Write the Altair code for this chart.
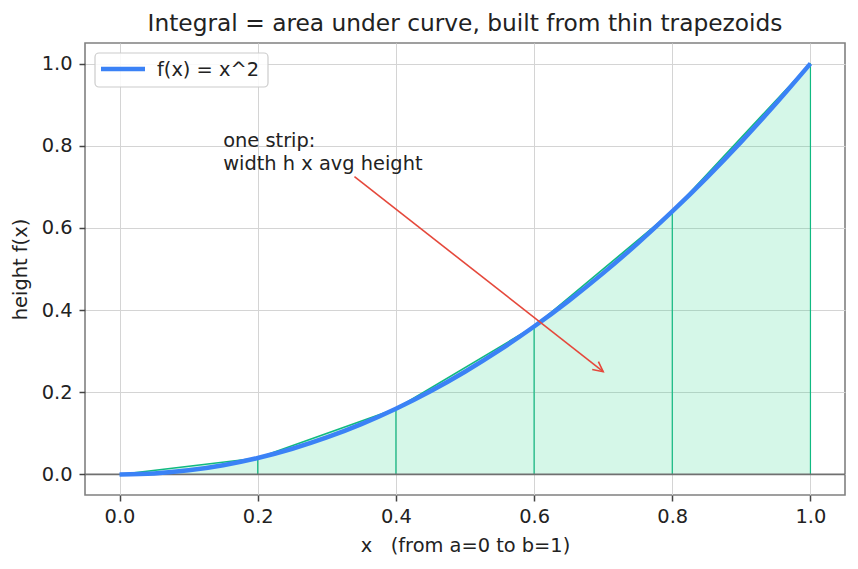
import math
import altair as alt
import pandas as pd

# ---- data ----
curve_x = [0.0, 0.05, 0.1, 0.15, 0.2, 0.25, 0.3, 0.35, 0.4, 0.45, 0.5,
           0.55, 0.6, 0.65, 0.7, 0.75, 0.8, 0.85, 0.9, 0.95, 1.0]
curve_y = [0.0, 0.0025, 0.01, 0.0225, 0.04, 0.0625, 0.09, 0.1225, 0.16, 0.2025, 0.25,
           0.3025, 0.36, 0.4225, 0.49, 0.5625, 0.64, 0.7225, 0.81, 0.9025, 1.0]
node_x = [0.0, 0.2, 0.4, 0.6, 0.8, 1.0]
node_y = [0.0, 0.04, 0.16, 0.36, 0.64, 1.0]
arrow_x = [0.34, 0.70]
arrow_y = [0.725, 0.25]
note_x = [0.15]
note_y = [0.75]
note_text = ["one strip:\nwidth h x avg height"]
tick_vals = [0.0, 0.2, 0.4, 0.6, 0.8, 1.0]
legend_label = "f(x) = x^2"

W, H = 760, 452
XDOM = [-0.05, 1.05]
YDOM = [-0.05, 1.05]
FONT = "DejaVu Sans"
FS = 19.4
BLUE = "#3b82f6"
GREEN = "#10b981"
RED = "#e5483b"
NB = "\u00a0"

curve_df = pd.DataFrame({"x": curve_x, "y": curve_y})
node_df = pd.DataFrame({"x": node_x, "y": node_y, "y0": [0.0] * len(node_x)})
arrow_df = pd.DataFrame({"x": arrow_x, "y": arrow_y})
# arrow head orientation from the line direction in pixel space
dx_px = (arrow_x[1] - arrow_x[0]) * W / (XDOM[1] - XDOM[0])
dy_px = (arrow_y[0] - arrow_y[1]) * H / (YDOM[1] - YDOM[0])
head_angle = math.degrees(math.atan2(dx_px, -dy_px)) % 360
head_df = pd.DataFrame({"x": [arrow_x[1]], "y": [arrow_y[1]], "a": [head_angle]})
note_df = pd.DataFrame({"x": note_x, "y": note_y, "t": note_text})
legend_df = pd.DataFrame({"t": [legend_label]})

xs = alt.Scale(domain=XDOM, nice=False, zero=False)
ys = alt.Scale(domain=YDOM, nice=False, zero=False)

xax = alt.Axis(values=tick_vals, format=".1f", title="x" + NB * 3 + "(from a=0 to b=1)",
               grid=True, domain=False, tickSize=6, labelPadding=6, titlePadding=11)
yax = alt.Axis(values=tick_vals, format=".1f", title="height f(x)",
               grid=True, domain=False, tickSize=6, labelPadding=7, titlePadding=11)

base = alt.Chart(node_df)

fill = base.mark_area(color="#2fd68a", opacity=0.2).encode(
    x=alt.X("x:Q", scale=xs, axis=xax),
    y=alt.Y("y:Q", scale=ys, axis=yax),
    y2="y0:Q",
)
top_edge = base.mark_line(color=GREEN, strokeWidth=1.6).encode(
    x=alt.X("x:Q", scale=xs), y=alt.Y("y:Q", scale=ys))
verticals = base.mark_rule(color=GREEN, strokeWidth=1.2).encode(
    x=alt.X("x:Q", scale=xs), y=alt.Y("y0:Q", scale=ys), y2="y:Q")
zero_line = alt.Chart(pd.DataFrame({"y": [0.0]})).mark_rule(color="#707070", strokeWidth=1.8).encode(
    y=alt.Y("y:Q", scale=ys))

curve = alt.Chart(curve_df).mark_line(strokeWidth=4.5, interpolate="monotone", color=BLUE).encode(
    x=alt.X("x:Q", scale=xs),
    y=alt.Y("y:Q", scale=ys),
)

arrow = alt.Chart(arrow_df).mark_line(color=RED, strokeWidth=1.6).encode(
    x=alt.X("x:Q", scale=xs), y=alt.Y("y:Q", scale=ys))
head = alt.Chart(head_df).mark_point(
    shape="M -0.5 1 L 0 0 L 0.5 1", size=400, color=RED, filled=False, strokeWidth=1.6, opacity=1
).encode(x=alt.X("x:Q", scale=xs), y=alt.Y("y:Q", scale=ys), angle=alt.Angle("a:Q", scale=None))

note = alt.Chart(note_df).mark_text(
    align="left", baseline="bottom", lineBreak="\n", fontSize=FS, font=FONT,
    color="#222222", lineHeight=22.5, dy=-15
).encode(x=alt.X("x:Q", scale=xs), y=alt.Y("y:Q", scale=ys), text="t:N")

# legend drawn as a framed box in the upper-left corner
leg = alt.Chart(legend_df)
leg_box = leg.mark_rect(fill="white", fillOpacity=0.85, stroke="#cccccc", strokeWidth=1.2,
                        cornerRadius=4).encode(
    x=alt.value(10), x2=alt.value(183), y=alt.value(10), y2=alt.value(44))
leg_line = leg.mark_rule(color=BLUE, strokeWidth=4.5).encode(
    x=alt.value(16), x2=alt.value(60), y=alt.value(26))
leg_text = leg.mark_text(align="left", baseline="middle", fontSize=FS, font=FONT,
                         color="#222222").encode(
    x=alt.value(72), y=alt.value(27), text="t:N")

chart = alt.layer(fill, top_edge, verticals, zero_line, curve, arrow, head, note,
                  leg_box, leg_line, leg_text).properties(
    width=W, height=H,
    title=alt.TitleParams("Integral = area under curve, built from thin trapezoids",
                          fontSize=23.3, font=FONT, fontWeight="normal", color="#222222",
                          anchor="middle", offset=7),
    autosize=alt.AutoSizeParams(type="none"),
    padding={"left": 85, "top": 43, "right": 13, "bottom": 74},
).configure_view(
    stroke="#808080", strokeWidth=1.6
).configure_axis(
    labelFont=FONT, titleFont=FONT, labelFontSize=FS, titleFontSize=FS,
    labelColor="#222222", titleColor="#222222", titleFontWeight="normal",
    tickColor="#444444", tickWidth=1.5, gridColor="#d4d4d4", gridWidth=1
)

chart.save("out.html", embed_options={"renderer": "svg", "actions": False})
